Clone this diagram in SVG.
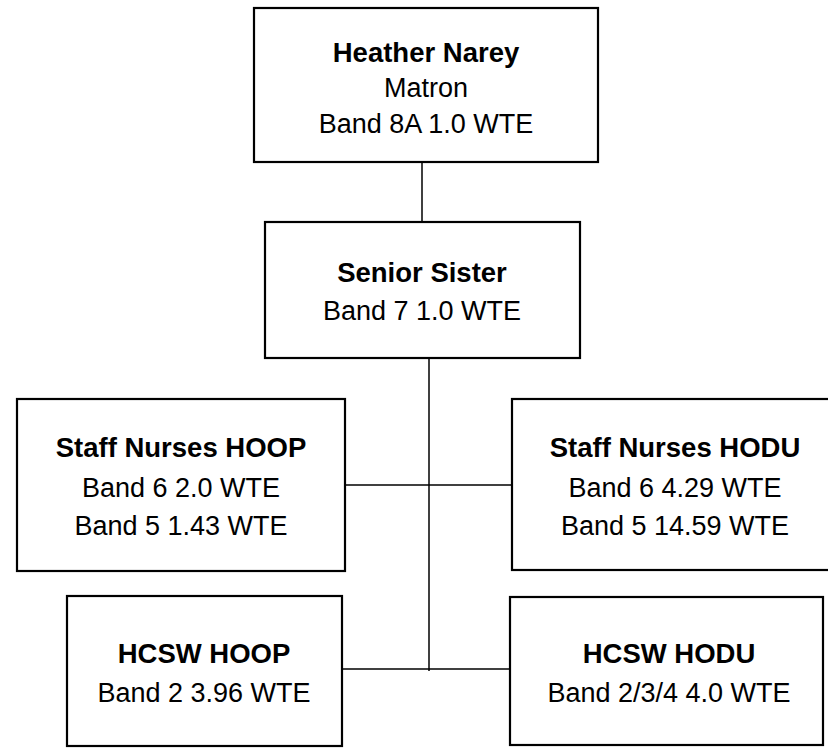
<svg xmlns="http://www.w3.org/2000/svg" width="828" height="748" viewBox="0 0 828 748">
<style>
.box{fill:#fff;stroke:#000;stroke-width:2.2}
.ln{stroke:#000;stroke-width:1.5;fill:none}
text{font-family:"Liberation Sans",Arial,sans-serif;font-size:27px;fill:#000;text-anchor:middle}
.b{font-weight:bold;font-size:27.5px}
</style>
<rect width="828" height="748" fill="#fff"/>
<g id="connectors">
<line class="ln" x1="422" y1="162" x2="422" y2="222"/>
<line class="ln" x1="429" y1="358" x2="429" y2="671"/>
<line class="ln" x1="345" y1="485" x2="512" y2="485"/>
<line class="ln" x1="342" y1="669" x2="510" y2="669"/>
</g>
<g id="matron">
<rect class="box" x="254" y="8" width="344" height="154"/>
<text class="b" x="426" y="62">Heather Narey</text>
<text x="426" y="97">Matron</text>
<text x="426" y="133">Band 8A 1.0 WTE</text>
</g>
<g id="senior-sister">
<rect class="box" x="265" y="222" width="315" height="136"/>
<text class="b" x="422" y="282">Senior Sister</text>
<text x="422" y="320">Band 7 1.0 WTE</text>
</g>
<g id="staff-hoop">
<rect class="box" x="17" y="399" width="328" height="172"/>
<text class="b" x="181" y="457">Staff Nurses HOOP</text>
<text x="181" y="497">Band 6 2.0 WTE</text>
<text x="181" y="535">Band 5 1.43 WTE</text>
</g>
<g id="staff-hodu">
<rect class="box" x="512" y="399" width="328" height="171"/>
<text class="b" x="675" y="457">Staff Nurses HODU</text>
<text x="675" y="497">Band 6 4.29 WTE</text>
<text x="675" y="535">Band 5 14.59 WTE</text>
</g>
<g id="hcsw-hoop">
<rect class="box" x="67" y="596" width="275" height="150"/>
<text class="b" x="204" y="663">HCSW HOOP</text>
<text x="204" y="702">Band 2 3.96 WTE</text>
</g>
<g id="hcsw-hodu">
<rect class="box" x="510" y="597" width="313" height="148"/>
<text class="b" x="669" y="663">HCSW HODU</text>
<text x="669" y="702">Band 2/3/4 4.0 WTE</text>
</g>
</svg>
